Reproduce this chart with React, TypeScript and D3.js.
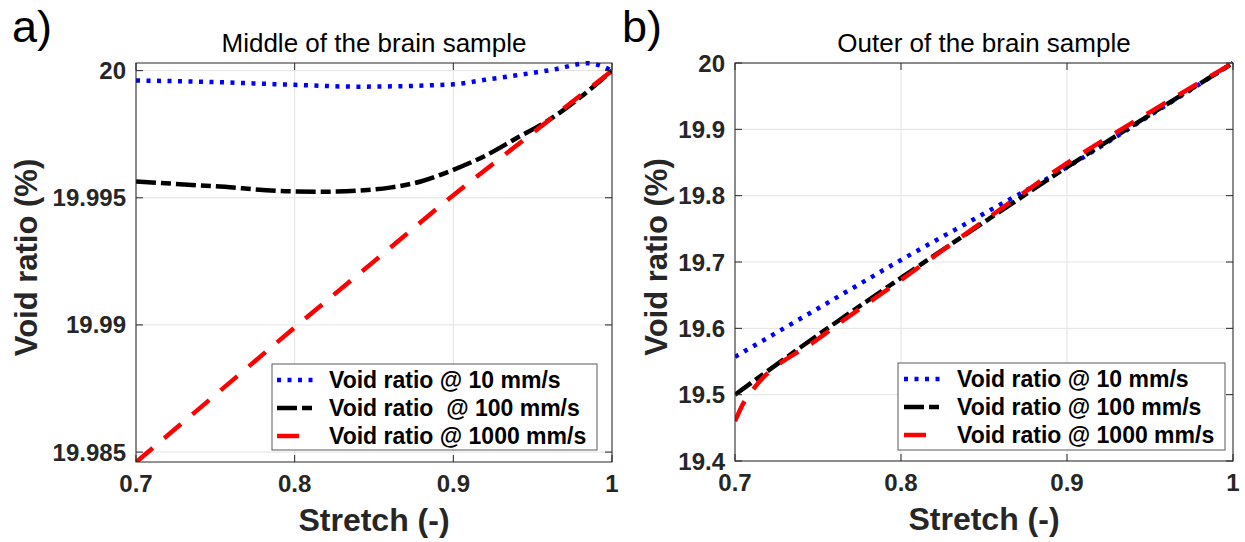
import React from 'react';
import * as d3 from 'd3';

// ---------- Data ----------
const xTicks = [0.7, 0.8, 0.9, 1];
const yTicksA = [19.985, 19.99, 19.995, 20];
const yTicksB = [19.4, 19.5, 19.6, 19.7, 19.8, 19.9, 20];

// Panel a) Middle of the brain sample
const aBlueX = [0.7, 0.75, 0.8, 0.84, 0.9, 0.92, 0.94, 0.963, 0.985, 1.0];
const aBlueY = [19.99961, 19.99955, 19.99944, 19.99937, 19.99946, 19.99964, 19.99982, 20.00004, 20.00029, 20.0];
const aBlackX = [0.7, 0.75, 0.8, 0.82, 0.84, 0.86, 0.88, 0.9, 0.92, 0.94, 0.96, 0.98, 1.0];
const aBlackY = [19.99564, 19.99545, 19.99525, 19.99524, 19.99528, 19.9954, 19.99565, 19.9961, 19.99665, 19.99735, 19.99805, 19.99895, 20.0];
const aRedX = [0.7, 0.75, 0.8, 0.85, 0.9, 0.95, 1.0];
const aRedY = [19.9846, 19.98725, 19.9899, 19.9925, 19.9951, 19.99755, 20.0];

// Panel b) Outer of the brain sample
const bBlueX = [0.7, 0.75, 0.8, 0.85, 0.9, 0.95, 1.0];
const bBlueY = [19.557, 19.63, 19.703, 19.773, 19.843, 19.921, 20.0];
const bBlackX = [0.7, 0.75, 0.8, 0.85, 0.9, 0.95, 1.0];
const bBlackY = [19.5, 19.59, 19.676, 19.76, 19.843, 19.922, 20.0];
const bRedX = [0.7, 0.705, 0.71, 0.75, 0.8, 0.85, 0.9, 0.95, 1.0];
const bRedY = [19.46, 19.487, 19.505, 19.584, 19.673, 19.762, 19.849, 19.926, 20.0];

const legendA = ['Void ratio @ 10 mm/s', 'Void ratio  @ 100 mm/s', 'Void ratio @ 1000 mm/s'];
const legendB = ['Void ratio @ 10 mm/s', 'Void ratio @ 100 mm/s', 'Void ratio @ 1000 mm/s'];

const FONT = '"Liberation Sans", Arial, Helvetica, sans-serif';
const AX = '#262626';

const styles = [
  { color: '#0000ff', dash: '4,6.5' },
  { color: '#000000', dash: '20,5,10,5' },
  { color: '#ff0000', dash: '22,15' },
];

type PanelProps = {
  id: string;
  letter: string;
  title: string;
  x0: number; x1: number; y0: number; y1: number;
  yDomain: [number, number];
  yTicks: number[];
  yFmt: (v: number) => string;
  series: { x: number[]; y: number[] }[];
  legend: string[];
  legendBox: { x: number; y: number; w: number; h: number; textX: number; sx0: number; sx1: number };
  ylabelX: number;
  letterX: number;
};

function Panel(p: PanelProps) {
  const xs = d3.scaleLinear().domain([0.7, 1]).range([p.x0, p.x1]);
  const ys = d3.scaleLinear().domain(p.yDomain).range([p.y1, p.y0]);
  const line = d3.line<[number, number]>()
    .x(d => xs(d[0]))
    .y(d => ys(d[1]))
    .curve(d3.curveMonotoneX);
  const tl = 7;
  const cx = (p.x0 + p.x1) / 2;
  const cy = (p.y0 + p.y1) / 2;
  const lb = p.legendBox;
  return (
    <g>
      <defs>
        <clipPath id={`clip-${p.id}`}>
          <rect x={p.x0} y={p.y0 - 2} width={p.x1 - p.x0} height={p.y1 - p.y0 + 2} />
        </clipPath>
      </defs>
      <rect x={p.x0} y={p.y0} width={p.x1 - p.x0} height={p.y1 - p.y0} fill="#fff" />
      {/* grid */}
      {xTicks.map(t => (
        <line key={`gx${t}`} x1={xs(t)} x2={xs(t)} y1={p.y0} y2={p.y1} stroke="#e3e3e3" strokeWidth={1} />
      ))}
      {p.yTicks.map(t => (
        <line key={`gy${t}`} x1={p.x0} x2={p.x1} y1={ys(t)} y2={ys(t)} stroke="#e3e3e3" strokeWidth={1} />
      ))}
      {/* series */}
      <g clipPath={`url(#clip-${p.id})`}>
        {p.series.map((s, i) => (
          <path
            key={i}
            d={line(s.x.map((v, j) => [v, s.y[j]] as [number, number])) || ''}
            fill="none"
            stroke={styles[i].color}
            strokeWidth={4.5}
            strokeDasharray={styles[i].dash}
          />
        ))}
      </g>
      {/* box */}
      <rect x={p.x0} y={p.y0} width={p.x1 - p.x0} height={p.y1 - p.y0} fill="none" stroke={AX} strokeWidth={1} />
      {/* ticks */}
      {xTicks.map(t => (
        <g key={`tx${t}`}>
          <line x1={xs(t)} x2={xs(t)} y1={p.y1} y2={p.y1 - tl} stroke={AX} />
          <line x1={xs(t)} x2={xs(t)} y1={p.y0} y2={p.y0 + tl} stroke={AX} />
          <text x={xs(t)} y={p.y1 + 30} textAnchor="middle" fontFamily={FONT} fontWeight="bold" fontSize={24} fill={AX}>
            {String(t)}
          </text>
        </g>
      ))}
      {p.yTicks.map(t => (
        <g key={`ty${t}`}>
          <line x1={p.x0} x2={p.x0 + tl} y1={ys(t)} y2={ys(t)} stroke={AX} />
          <line x1={p.x1} x2={p.x1 - tl} y1={ys(t)} y2={ys(t)} stroke={AX} />
          <text x={p.x0 - 10} y={ys(t) + 8.5} textAnchor="end" fontFamily={FONT} fontWeight="bold" fontSize={24} fill={AX}>
            {p.yFmt(t)}
          </text>
        </g>
      ))}
      {/* title */}
      <text x={cx} y={52} textAnchor="middle" fontFamily={FONT} fontSize={26} fill="#000">{p.title}</text>
      {/* x label */}
      <text x={cx} y={p.y1 + 69} textAnchor="middle" fontFamily={FONT} fontWeight="bold" fontSize={32} fill={AX}>Stretch (-)</text>
      {/* y label */}
      <text transform={`translate(${p.ylabelX},${cy - 5}) rotate(-90)`} textAnchor="middle" fontFamily={FONT} fontWeight="bold" fontSize={31} fill={AX}>Void ratio (%)</text>
      {/* panel letter */}
      <text x={p.letterX} y={42} fontFamily={FONT} fontSize={45} fill="#000">{p.letter}</text>
      {/* legend */}
      <rect x={lb.x} y={lb.y} width={lb.w} height={lb.h} fill="#fff" stroke="#5a5a5a" strokeWidth={1} />
      {p.legend.map((txt, i) => {
        const ly = lb.y + 16 + i * 28;
        return (
          <g key={`lg${i}`}>
            <line x1={lb.sx0} x2={lb.sx1} y1={ly} y2={ly} stroke={styles[i].color} strokeWidth={4.5} strokeDasharray={styles[i].dash} />
            <text x={lb.textX} y={ly + 8} fontFamily={FONT} fontWeight="bold" fontSize={23} fill="#000" style={{ whiteSpace: 'pre' }}>{txt}</text>
          </g>
        );
      })}
    </g>
  );
}

export default function App() {
  const fmtA = (v: number) => (v === 20 ? '20' : d3.format('.3f')(v).replace(/0+$/, ''));
  const fmtB = (v: number) => (v === 20 ? '20' : d3.format('.1f')(v));
  return (
    <svg width={1245} height={542} style={{ position: 'absolute', left: 0, top: 0, background: '#fff' }}>
      <rect x={0} y={0} width={1245} height={542} fill="#fff" />
      <Panel
        id="a" letter="a)" title="Middle of the brain sample"
        x0={136} x1={612} y0={63} y1={462}
        yDomain={[19.98461, 20.0003]}
        yTicks={yTicksA} yFmt={fmtA}
        series={[{ x: aBlueX, y: aBlueY }, { x: aBlackX, y: aBlackY }, { x: aRedX, y: aRedY }]}
        legend={legendA}
        legendBox={{ x: 272, y: 364, w: 325, h: 86, textX: 329, sx0: 277, sx1: 313 }}
        ylabelX={37} letterX={12}
      />
      <Panel
        id="b" letter="b)" title="Outer of the brain sample"
        x0={735} x1={1233} y0={63} y1={461}
        yDomain={[19.4, 20]}
        yTicks={yTicksB} yFmt={fmtB}
        series={[{ x: bBlueX, y: bBlueY }, { x: bBlackX, y: bBlackY }, { x: bRedX, y: bRedY }]}
        legend={legendB}
        legendBox={{ x: 898, y: 363, w: 327, h: 87, textX: 957, sx0: 904, sx1: 940 }}
        ylabelX={667} letterX={622}
      />
    </svg>
  );
}
